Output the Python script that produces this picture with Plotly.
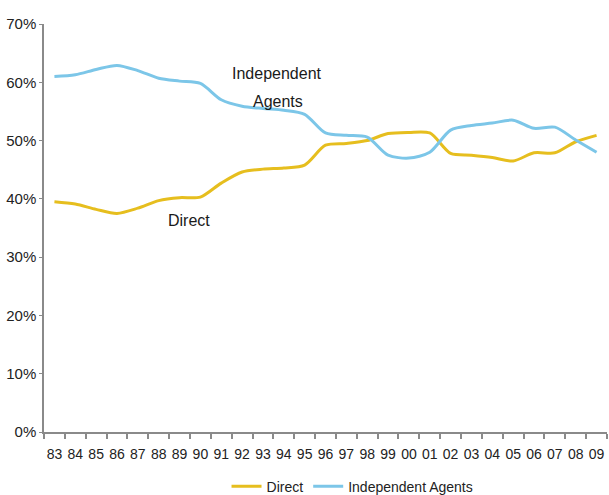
import plotly.graph_objects as go

years = ["83", "84", "85", "86", "87", "88", "89", "90", "91", "92", "93", "94", "95", "96",
         "97", "98", "99", "00", "01", "02", "03", "04", "05", "06", "07", "08", "09"]

direct = [39.5, 39.1, 38.2, 37.5, 38.4, 39.7, 40.2, 40.3, 42.7, 44.6, 45.1, 45.3, 45.8, 49.2,
          49.5, 50.0, 51.2, 51.4, 51.3, 47.8, 47.5, 47.1, 46.5, 47.9, 47.9, 49.8, 50.9]

independent = [61.0, 61.3, 62.2, 62.9, 62.0, 60.7, 60.2, 59.8, 57.0, 55.9, 55.5, 55.2, 54.5, 51.3,
               50.9, 50.6, 47.5, 47.0, 48.0, 51.8, 52.6, 53.0, 53.5, 52.1, 52.3, 50.1, 48.0]

y_ticks = [0, 10, 20, 30, 40, 50, 60, 70]
y_tick_text = ["0%", "10%", "20%", "30%", "40%", "50%", "60%", "70%"]

DIRECT_COLOR = "#E6BE1E"
AGENT_COLOR = "#7CC6E8"
AXIS_COLOR = "#8a8a8a"
TEXT_COLOR = "#222222"
FONT = "Liberation Sans, Arial, sans-serif"

fig = go.Figure()
fig.add_trace(go.Scatter(
    x=years, y=direct, name="Direct", mode="lines",
    line=dict(color=DIRECT_COLOR, width=3, shape="spline", smoothing=0.8),
))
fig.add_trace(go.Scatter(
    x=years, y=independent, name="Independent Agents", mode="lines",
    line=dict(color=AGENT_COLOR, width=3, shape="spline", smoothing=0.8),
))

fig.update_layout(
    width=609, height=495,
    margin=dict(l=44, r=2, t=24, b=63, autoexpand=False),
    paper_bgcolor="white", plot_bgcolor="white",
    font=dict(family=FONT, size=15, color=TEXT_COLOR),
    showlegend=True,
    legend=dict(orientation="h", x=0.548, xanchor="center", y=-0.134, yanchor="middle",
                font=dict(family=FONT, size=14, color=TEXT_COLOR),
                itemwidth=30, tracegroupgap=0, bgcolor="rgba(0,0,0,0)"),
    xaxis=dict(type="category", categoryorder="array", categoryarray=years,
               range=[-0.5, len(years) - 0.5], tickson="boundaries",
               showline=True, linecolor=AXIS_COLOR, linewidth=1.5,
               ticks="outside", ticklen=5, tickcolor=AXIS_COLOR, tickwidth=1.5,
               tickangle=0, automargin=False, ticklabelstandoff=8,
               showgrid=False, zeroline=False,
               tickfont=dict(family=FONT, size=14, color=TEXT_COLOR)),
    yaxis=dict(range=[0, 70], tickvals=y_ticks, ticktext=y_tick_text,
               showline=True, linecolor=AXIS_COLOR, linewidth=1.5,
               ticks="outside", ticklen=3, tickcolor=AXIS_COLOR, automargin=False,
               showgrid=False, zeroline=False,
               tickfont=dict(family=FONT, size=15, color=TEXT_COLOR)),
    annotations=[
        dict(text="Independent", xref="paper", yref="paper", x=0.4147, y=0.9034,
             showarrow=False, font=dict(family=FONT, size=16, color="#1a1a1a")),
        dict(text="Agents", xref="paper", yref="paper", x=0.4151, y=0.835,
             showarrow=False, font=dict(family=FONT, size=16, color="#1a1a1a")),
        dict(text="Direct", xref="paper", yref="paper", x=0.2173, y=0.518,
             showarrow=False, font=dict(family=FONT, size=16, color="#1a1a1a")),
    ],
)

fig.write_html("out.html")
